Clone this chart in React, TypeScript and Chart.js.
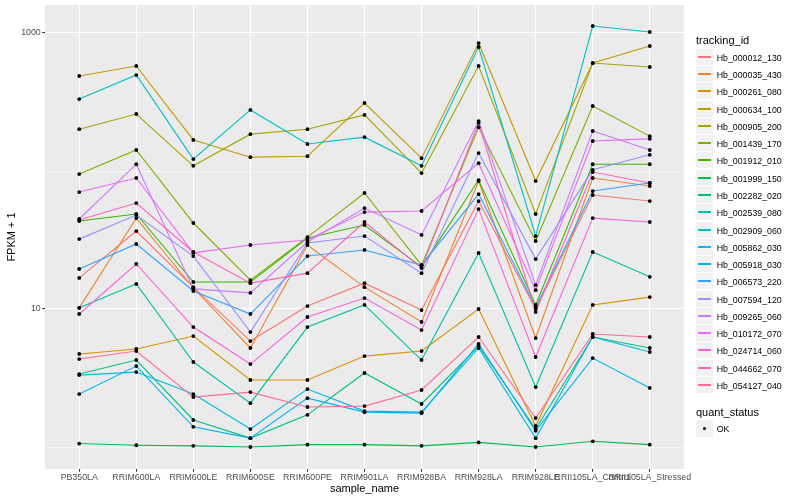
import React, { useEffect, useRef } from 'react';
import { Chart, registerables } from 'chart.js';

Chart.register(...registerables);

const categories = [
  'PB350LA', 'RRIM600LA', 'RRIM600LE', 'RRIM600SE', 'RRIM600PE', 'RRIM901LA',
  'RRIM928BA', 'RRIM928LA', 'RRIM928LE', 'RRII105LA_Control', 'RRII105LA_Stressed',
];

const trackingIds = [
  'Hb_000012_130', 'Hb_000035_430', 'Hb_000261_080', 'Hb_000634_100', 'Hb_000905_200',
  'Hb_001439_170', 'Hb_001912_010', 'Hb_001999_150', 'Hb_002282_020', 'Hb_002539_080',
  'Hb_002909_060', 'Hb_005862_030', 'Hb_005918_030', 'Hb_006573_220', 'Hb_007594_120',
  'Hb_009265_060', 'Hb_010172_070', 'Hb_024714_060', 'Hb_044662_070', 'Hb_054127_040',
];

const seriesColors = [
  '#F8766D', '#EA8331', '#D89000', '#C09B00', '#A3A500',
  '#7CAE00', '#39B600', '#00BB4E', '#00BF7D', '#00C1A3',
  '#00BFC4', '#00BAE0', '#00B0F6', '#35A2FF', '#9590FF',
  '#C77CFF', '#E76BF3', '#FA62DB', '#FF62BC', '#FF6C91',
];

// FPKM + 1 per sample, in category order
const hb000012_130 = [16.8, 36.7, 14.4, 5.86, 10.5, 15.4, 9.83, 60.6, 10.0, 67.0, 60.6];
const hb000035_430 = [10.2, 45.6, 14.2, 5.22, 29.1, 14.4, 8.05, 84.6, 6.16, 89.0, 77.9];
const hb000261_080 = [4.72, 5.13, 6.37, 3.06, 3.06, 4.56, 4.96, 10.0, 1.42, 10.7, 12.2];
const hb000634_100 = [488, 577, 168, 126, 128, 311, 124, 846, 84.6, 606, 805];
const hb000905_200 = [201, 259, 109, 185, 201, 255, 96.7, 577, 48.8, 606, 567];
const hb001439_170 = [95.1, 142, 42.0, 16.2, 33.2, 69.3, 20.8, 208, 31.1, 296, 179];
const hb001912_010 = [43.4, 48.8, 15.7, 15.7, 32.7, 40.6, 20.2, 86.0, 10.7, 112, 112];
const hb001999_150 = [1.06, 1.03, 1.02, 1.0, 1.04, 1.04, 1.02, 1.08, 1.0, 1.1, 1.04];
const hb002282_020 = [3.38, 4.27, 1.57, 1.16, 1.71, 3.44, 2.05, 5.39, 1.35, 6.27, 5.22];
const hb002539_080 = [10.2, 15.2, 4.13, 2.08, 7.40, 10.7, 4.27, 25.5, 2.72, 25.9, 17.1];
const hb002909_060 = [332, 496, 122, 277, 157, 176, 109, 792, 33.8, 1124, 1017];
const hb005862_030 = [3.32, 3.49, 2.42, 1.35, 2.63, 1.82, 1.79, 5.22, 1.16, 6.27, 4.88];
const hb005918_030 = [2.42, 3.86, 1.40, 1.16, 2.26, 1.79, 1.76, 5.58, 1.31, 4.41, 2.68];
const hb006573_220 = [19.5, 29.6, 13.5, 9.20, 24.2, 26.8, 20.8, 68.1, 10.3, 71.6, 81.9];
const hb007594_120 = [32.1, 48.0, 24.2, 6.81, 30.1, 33.8, 18.2, 135, 23.0, 102, 131];
const hb009265_060 = [44.9, 112, 14.0, 13.1, 30.6, 53.9, 34.4, 230, 14.9, 195, 142];
const hb010172_070 = [70.4, 89.0, 25.5, 29.1, 31.6, 50.4, 51.3, 114, 13.7, 165, 171];
const hb024714_060 = [9.20, 21.2, 7.40, 3.99, 8.75, 12.0, 7.04, 53.0, 4.49, 45.6, 42.7];
const hb044662_070 = [44.1, 58.6, 25.9, 15.4, 18.2, 42.7, 19.8, 223, 9.51, 98.3, 81.9];
const hb054127_040 = [4.34, 4.96, 2.30, 2.50, 1.95, 1.98, 2.59, 6.27, 1.62, 6.59, 6.27];

const seriesValues = [
  hb000012_130, hb000035_430, hb000261_080, hb000634_100, hb000905_200,
  hb001439_170, hb001912_010, hb001999_150, hb002282_020, hb002539_080,
  hb002909_060, hb005862_030, hb005918_030, hb006573_220, hb007594_120,
  hb009265_060, hb010172_070, hb024714_060, hb044662_070, hb054127_040,
];

const yAxisMin = 0.693;
const yAxisMax = 1596;
const yGridValues = [1, 10, 100, 1000];
const yLabelValues = [10, 1000];
const quantStatusLevels = ['OK'];

const FONT = "'Liberation Sans', Arial, Helvetica, sans-serif";

const panelBackground = {
  id: 'panelBackground',
  beforeDraw(chart: any) {
    const { ctx, chartArea: a } = chart;
    ctx.save();
    ctx.fillStyle = '#EBEBEB';
    ctx.fillRect(a.left, a.top, a.right - a.left, a.bottom - a.top);
    ctx.restore();
  },
};

const KEY_TOP = 48.7;
const KEY_H = 17.28;

export default function App() {
  const ref = useRef<HTMLCanvasElement>(null);

  useEffect(() => {
    if (!ref.current) return;
    const lineSets = seriesValues.map((vals, s) => ({
      type: 'line' as const,
      label: trackingIds[s],
      data: vals.map((v, i) => ({ x: i, y: v })),
      borderColor: seriesColors[s],
      backgroundColor: seriesColors[s],
      borderWidth: 1.1,
      pointRadius: 0,
      pointHoverRadius: 0,
      fill: false,
      tension: 0,
      order: seriesValues.length - s,
    }));
    const pointSet = {
      type: 'scatter' as const,
      label: quantStatusLevels[0],
      data: seriesValues.flatMap((vals) => vals.map((v, i) => ({ x: i, y: v }))),
      pointRadius: 1.9,
      pointBackgroundColor: '#000000',
      pointBorderColor: '#000000',
      pointBorderWidth: 0,
      showLine: false,
      order: 0,
    };

    const chart = new Chart(ref.current, {
      type: 'line',
      data: { datasets: [...lineSets, pointSet] as any },
      options: {
        responsive: false,
        animation: false,
        events: [],
        layout: { padding: { left: 0, right: 116, top: 5, bottom: 0 } },
        plugins: { legend: { display: false }, tooltip: { enabled: false } },
        scales: {
          x: {
            type: 'linear',
            min: -0.6,
            max: 10.6,
            bounds: 'data',
            afterBuildTicks: (scale: any) => {
              scale.ticks = categories.map((_, i) => ({ value: i }));
            },
            afterFit: (scale: any) => {
              scale.height = 31;
              scale.paddingLeft = 0;
              scale.paddingRight = 0;
            },
            grid: {
              color: '#FFFFFF',
              lineWidth: 1.07,
              tickColor: '#333333',
              tickLength: 2.75,
              tickWidth: 1.07,
            },
            border: { display: false },
            ticks: {
              autoSkip: false,
              maxRotation: 0,
              minRotation: 0,
              padding: 0.8,
              color: '#4D4D4D',
              font: { family: FONT, size: 8.8 },
              callback: (v: any) => categories[v as number] ?? '',
            },
            title: {
              display: true,
              text: 'sample_name',
              color: '#000000',
              font: { family: FONT, size: 11 },
              padding: { top: 0, bottom: 4.4 },
            },
          },
          y: {
            type: 'logarithmic',
            min: yAxisMin,
            max: yAxisMax,
            bounds: 'data',
            afterBuildTicks: (scale: any) => {
              scale.ticks = yGridValues.map((v) => ({ value: v }));
            },
            afterFit: (scale: any) => {
              scale.width = 45;
              scale.paddingTop = 0;
              scale.paddingBottom = 0;
            },
            grid: {
              color: '#FFFFFF',
              lineWidth: (c: any) => (yLabelValues.includes(c.tick?.value) ? 1.07 : 0.53),
              tickColor: (c: any) => (yLabelValues.includes(c.tick?.value) ? '#333333' : 'rgba(0,0,0,0)'),
              tickLength: 2.75,
              tickWidth: 1.07,
            },
            border: { display: false },
            ticks: {
              autoSkip: false,
              padding: 1.5,
              color: '#4D4D4D',
              font: { family: FONT, size: 8.8 },
              callback: (v: any) => (yLabelValues.includes(v as number) ? String(v) : ''),
            },
            title: {
              display: true,
              text: 'FPKM + 1',
              color: '#000000',
              font: { family: FONT, size: 11 },
              padding: { top: 5.4, bottom: 0 },
            },
          },
        },
      } as any,
      plugins: [panelBackground],
    });
    return () => chart.destroy();
  }, []);

  return (
    <div style={{ position: 'fixed', left: 0, top: 0, width: 800, height: 500, background: '#FFFFFF', fontFamily: FONT, overflow: 'hidden' }}>
      <canvas ref={ref} width={800} height={500} style={{ position: 'absolute', left: 0, top: 0, width: 800, height: 500 }} />
      <div style={{ position: 'absolute', left: 696, top: 34, fontSize: 11, lineHeight: '13px', color: '#000', whiteSpace: 'nowrap' }}>tracking_id</div>
      {trackingIds.map((id, i) => {
        const top = Math.round(KEY_TOP + i * KEY_H);
        return (
          <div key={id} style={{ position: 'absolute', left: 696, top, height: 17, display: 'flex', alignItems: 'center' }}>
            <div style={{ width: 17, height: 17, background: '#F2F2F2', borderBottom: '1px solid #FFFFFF', boxSizing: 'border-box', position: 'relative' }}>
              <div style={{ position: 'absolute', left: 2, width: 13, top: 7, height: 2, background: seriesColors[i] }} />
            </div>
            <span style={{ marginLeft: 3.7, fontSize: 8.8, lineHeight: '10px', color: '#000', whiteSpace: 'nowrap' }}>{id}</span>
          </div>
        );
      })}
      <div style={{ position: 'absolute', left: 696, top: 405.8, fontSize: 11, lineHeight: '13px', color: '#000', whiteSpace: 'nowrap' }}>quant_status</div>
      {quantStatusLevels.map((lvl, i) => (
        <div key={lvl} style={{ position: 'absolute', left: 696, top: 420 + i * 17, height: 17, display: 'flex', alignItems: 'center' }}>
          <div style={{ width: 17, height: 17, background: '#F2F2F2', boxSizing: 'border-box', position: 'relative' }}>
            <div style={{ position: 'absolute', left: 6.6, top: 6.6, width: 3.8, height: 3.8, borderRadius: '50%', background: '#000' }} />
          </div>
          <span style={{ marginLeft: 3.7, fontSize: 8.8, lineHeight: '10px', color: '#000', whiteSpace: 'nowrap' }}>{lvl}</span>
        </div>
      ))}
    </div>
  );
}
